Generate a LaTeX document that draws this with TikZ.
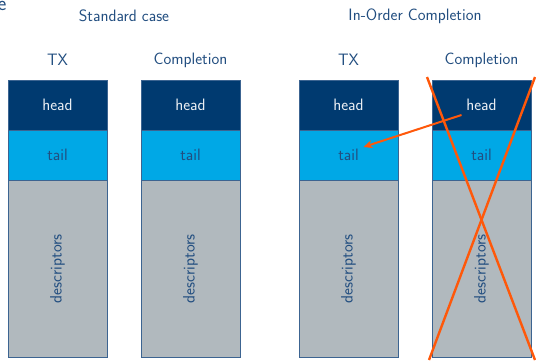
\documentclass[tikz,border=0pt]{standalone}
\usetikzlibrary{arrows.meta,calc}
\definecolor{headc}{RGB}{0,58,112}
\definecolor{tailc}{RGB}{0,168,230}
\definecolor{descc}{RGB}{177,185,190}
\definecolor{txtc}{RGB}{34,78,128}
\definecolor{bordc}{RGB}{60,100,145}
\definecolor{crossc}{RGB}{255,88,10}
\tikzset{
  seg/.style={draw=bordc, line width=0.8pt, minimum width=99pt, inner sep=0pt, font=\fontsize{16.5}{19}\sffamily},
  headbox/.style={seg, fill=headc, minimum height=50pt, text=white!92!headc},
  tailbox/.style={seg, fill=tailc, minimum height=50pt, text=txtc},
  descbox/.style={seg, fill=descc, minimum height=177.5pt, text=txtc},
  lbl/.style={text=txtc, font=\fontsize{16.5}{19}\sffamily, inner sep=0pt},
  cross/.style={draw=crossc, line width=2.4pt},
  ptr/.style={draw=crossc, line width=2pt, -{Stealth[length=9pt,width=8pt]}}
}
\begin{document}
\begin{tikzpicture}[x=1pt,y=-1pt]
\useasboundingbox (0,0) rectangle (536,360);
\clip (0,0) rectangle (536,360);
\node[text=txtc, font=\fontsize{21}{24}\sffamily, anchor=base east, inner sep=0pt] (ttl) at (6.5,10) {e};
\node[lbl] (std) at (124,16) {Standard case};
\node[lbl] (ino) at (415,16) {In-Order Completion};
\node[lbl] (l1) at (57.5,60) {TX};
\node[lbl] (l2) at (190.5,60) {Completion};
\node[lbl] (l3) at (348.5,60) {TX};
\node[lbl] (l4) at (481.5,60) {Completion};
\foreach \i/\x in {1/57.5,2/190.5,3/348.5,4/481.5}{
  \node[headbox] (h\i) at (\x,105) {head};
  \node[tailbox] (t\i) at (\x,155) {tail};
  \node[descbox] (d\i) at (\x,268.75) {\rotatebox{90}{descriptors}};
}
\coordinate (c1a) at (427,77);
\coordinate (c1b) at (535,360);
\coordinate (c2a) at (535,77);
\coordinate (c2b) at (429,360);
\draw[cross] (c1a) -- (c1b);
\draw[cross] (c2a) -- (c2b);
\coordinate (as) at ($(h4.center)+(-20,10)$);
\coordinate (ae) at ($(t3.center)+(15,-8)$);
\draw[ptr] (as) -- (ae);
\end{tikzpicture}
\end{document}
